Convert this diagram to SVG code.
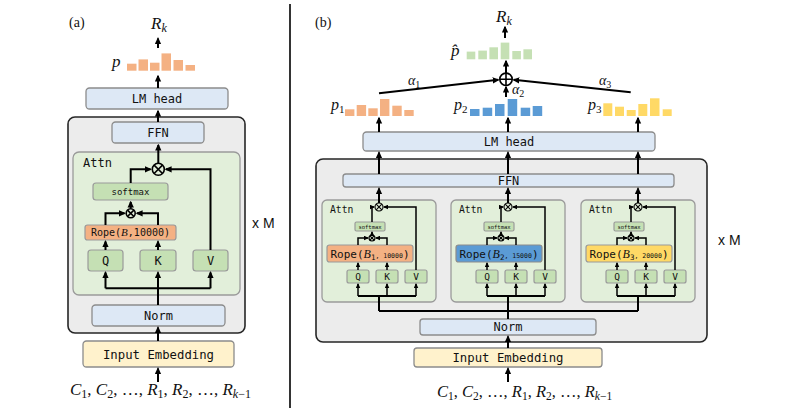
<svg xmlns="http://www.w3.org/2000/svg" width="797" height="412" viewBox="0 0 797 412">
<defs>
<style>
.mono{font-family:"DejaVu Sans Mono","Liberation Mono",monospace;fill:#111;text-anchor:middle}
.math{font-family:"Liberation Serif","DejaVu Serif",serif;font-style:italic;fill:#111}
.up{font-style:normal}
.lbl{font-family:"Liberation Serif","DejaVu Serif",serif;fill:#111;font-size:14px}
.sans{font-family:"Liberation Sans",Arial,sans-serif;fill:#111;font-size:14px}
.bb{fill:#dde8f5;stroke:#8c8c8c;stroke-width:1.3}
.outer{fill:#ececec;stroke:#262626;stroke-width:1.6}
.attn{fill:#e2efda;stroke:#9a9a9a;stroke-width:1.3}
.g{fill:#c5e0b4;stroke:#9a9a9a;stroke-width:1.2}
.emb{fill:#fff2cc;stroke:#8c8c8c;stroke-width:1.3}
.or{fill:#f4b183;stroke:#9a9a9a;stroke-width:1.2}
.bl{fill:#5b9bd5;stroke:#8c8c8c;stroke-width:1.2}
.ye{fill:#ffd966;stroke:#9a9a9a;stroke-width:1.2}
.c{fill:none;stroke:#000;stroke-width:2}
.cs{fill:none;stroke:#000;stroke-width:1.5}
.op{fill:none;stroke:#000;stroke-width:1.6}
.ops{fill:none;stroke:#000;stroke-width:1.1}
.bo{fill:#f4b183}.bbl{fill:#5b9bd5}.by{fill:#ffd966}.bg{fill:#c5e0b4}
</style>
<marker id="a" viewBox="0 0 10 10" refX="8" refY="5" markerWidth="7" markerHeight="7" markerUnits="userSpaceOnUse" orient="auto"><path d="M0,0.5 L10,5 L0,9.5 z" fill="#000"/></marker>
<marker id="s" viewBox="0 0 10 10" refX="8" refY="5" markerWidth="5" markerHeight="5" markerUnits="userSpaceOnUse" orient="auto"><path d="M0,0.5 L10,5 L0,9.5 z" fill="#000"/></marker>
</defs>
<rect width="797" height="412" fill="#fff"/>

<!-- divider -->
<line x1="290" y1="4" x2="290" y2="408" stroke="#000" stroke-width="1.6"/>

<!-- ========== Panel (a) ========== -->
<text class="lbl" x="69" y="27">(a)</text>
<g id="a-Rk"><text class="math" x="151" y="29" font-size="17">R<tspan font-size="12" dy="3">k</tspan></text></g>
<g id="a-p">
<text class="math" x="112" y="67" font-size="17">p</text>
<rect class="bo" x="127" y="63.7" width="9.5" height="7"/>
<rect class="bo" x="138.5" y="59.4" width="9.5" height="11.3"/>
<rect class="bo" x="150" y="62.7" width="9.5" height="8"/>
<rect class="bo" x="161.5" y="53.4" width="9.5" height="17.3"/>
<rect class="bo" x="173.5" y="60" width="9.5" height="10.7"/>
<rect class="bo" x="185.5" y="65" width="9.5" height="5.7"/>
</g>
<g id="a-lmhead"><rect class="bb" x="86" y="88" width="142" height="21" rx="3.5"/><text class="mono" x="157" y="103" font-size="12">LM head</text></g>
<g id="a-block"><rect class="outer" x="68" y="117" width="177" height="216" rx="7"/></g>
<g id="a-ffn"><rect class="bb" x="112" y="122" width="92" height="21" rx="3.5"/><text class="mono" x="158" y="137" font-size="12">FFN</text></g>
<g id="a-attn"><rect class="attn" x="73" y="152" width="167" height="143" rx="6"/><text class="mono" x="83" y="167" font-size="12" style="text-anchor:start">Attn</text></g>
<g id="a-mul1"><circle class="op" cx="158.3" cy="169.3" r="6"/><path class="op" d="M154.1,165.1 L162.5,173.5 M162.5,165.1 L154.1,173.5"/></g>
<g id="a-softmax"><rect class="g" x="93" y="183" width="75" height="17" rx="3"/><text class="mono" x="130.5" y="195" font-size="9">softmax</text></g>
<g id="a-mul2"><circle class="op" cx="130.7" cy="213.3" r="4.5"/><path class="op" d="M127.5,210.1 L133.9,216.5 M133.9,210.1 L127.5,216.5"/></g>
<g id="a-rope"><rect class="or" x="85" y="225" width="91" height="15" rx="2.5"/><text class="mono" x="130.5" y="236" font-size="10">Rope(<tspan class="math" font-size="11">B</tspan>,10000)</text></g>
<g id="a-q"><rect class="g" x="88" y="250" width="35" height="21" rx="3"/><text class="mono" x="105.5" y="264.5" font-size="12">Q</text></g>
<g id="a-k"><rect class="g" x="140" y="250" width="36" height="21" rx="3"/><text class="mono" x="158" y="264.5" font-size="12">K</text></g>
<g id="a-v"><rect class="g" x="193" y="250" width="35" height="21" rx="3"/><text class="mono" x="210.5" y="264.5" font-size="12">V</text></g>
<g id="a-norm"><rect class="bb" x="92" y="305" width="133" height="21" rx="3.5"/><text class="mono" x="158.5" y="320" font-size="12">Norm</text></g>
<g id="a-emb"><rect class="emb" x="83" y="341" width="151" height="26" rx="3.5"/><text class="mono" x="158.5" y="358.5" font-size="12.3">Input Embedding</text></g>
<g id="a-xm"><text class="sans" x="252" y="228">x M</text></g>
<g id="a-input"><text class="math" x="70" y="395" font-size="17">C<tspan class="up" font-size="12" dy="3">1</tspan><tspan class="up" dy="-3">, </tspan>C<tspan class="up" font-size="12" dy="3">2</tspan><tspan class="up" dy="-3">, …,  </tspan>R<tspan class="up" font-size="12" dy="3">1</tspan><tspan class="up" dy="-3">, </tspan>R<tspan class="up" font-size="12" dy="3">2</tspan><tspan class="up" dy="-3">, …, </tspan>R<tspan font-size="12" dy="3">k</tspan><tspan class="up" font-size="12">−1</tspan></text></g>

<!-- ========== Panel (b) ========== -->
<text class="lbl" x="315" y="27">(b)</text>
<g id="b-Rk"><text class="math" x="496" y="22" font-size="17">R<tspan font-size="12" dy="3">k</tspan></text></g>
<g id="b-phat">
<text class="math" x="451" y="56" font-size="17">p̂</text>
<rect class="bg" x="466.7" y="51.6" width="8.6" height="7.7"/>
<rect class="bg" x="478.3" y="50.6" width="8.6" height="8.7"/>
<rect class="bg" x="489.4" y="47.3" width="8.6" height="12"/>
<rect class="bg" x="500.7" y="42.6" width="8.6" height="16.7"/>
<rect class="bg" x="512.3" y="51" width="8.6" height="8.3"/>
<rect class="bg" x="523.4" y="49.3" width="8.6" height="10"/>
</g>
<g id="b-sum"><circle class="op" cx="506" cy="79.3" r="6.2"/><path class="op" d="M499.8,79.3 H512.2 M506,73.1 V85.5"/></g>
<g id="b-alpha">
<text class="math" x="408" y="85" font-size="14">α<tspan class="up" font-size="10" dy="2.5">1</tspan></text>
<text class="math" x="512" y="94" font-size="14">α<tspan class="up" font-size="10" dy="2.5">2</tspan></text>
<text class="math" x="599" y="85" font-size="14">α<tspan class="up" font-size="10" dy="2.5">3</tspan></text>
</g>
<g id="b-p1">
<text class="math" x="331" y="110" font-size="16">p<tspan class="up" font-size="11" dy="2.5">1</tspan></text>
<rect class="bo" x="345" y="109.3" width="9.4" height="6.7"/>
<rect class="bo" x="356.7" y="105" width="9.4" height="11"/>
<rect class="bo" x="368.3" y="108.3" width="9.4" height="7.7"/>
<rect class="bo" x="380" y="99" width="9.4" height="17"/>
<rect class="bo" x="392.3" y="105.7" width="9.4" height="10.3"/>
<rect class="bo" x="404.3" y="110" width="9.4" height="6"/>
</g>
<g id="b-p2">
<text class="math" x="454" y="110" font-size="16">p<tspan class="up" font-size="11" dy="2.5">2</tspan></text>
<rect class="bbl" x="470" y="109" width="9.5" height="7"/>
<rect class="bbl" x="482.7" y="107.7" width="9.5" height="8.3"/>
<rect class="bbl" x="495" y="104" width="9.5" height="12"/>
<rect class="bbl" x="507.7" y="99" width="9.5" height="17"/>
<rect class="bbl" x="520.7" y="107.7" width="9.5" height="8.3"/>
<rect class="bbl" x="532.7" y="106" width="9.5" height="10"/>
</g>
<g id="b-p3">
<text class="math" x="588" y="110" font-size="16">p<tspan class="up" font-size="11" dy="2.5">3</tspan></text>
<rect class="by" x="603.3" y="103.3" width="9" height="12.7"/>
<rect class="by" x="615" y="106.7" width="9" height="9.3"/>
<rect class="by" x="626.7" y="110" width="9" height="6"/>
<rect class="by" x="638.3" y="104" width="9" height="12"/>
<rect class="by" x="650" y="98.3" width="9.5" height="17.7"/>
<rect class="by" x="662.7" y="109.3" width="9" height="6.7"/>
</g>
<g id="b-lmhead"><rect class="bb" x="363" y="132" width="292" height="19" rx="3.5"/><text class="mono" x="509" y="146" font-size="12">LM head</text></g>
<g id="b-block"><rect class="outer" x="316" y="159" width="391" height="183" rx="7"/></g>
<g id="b-ffn"><rect class="bb" x="343" y="174" width="331" height="13" rx="3"/><text class="mono" x="508.5" y="184.7" font-size="12">FFN</text></g>

<!-- attention block 1 (cx=379) -->
<g id="b-attn1">
<rect class="attn" x="322" y="200" width="114" height="102" rx="5"/>
<text class="mono" x="330" y="213" font-size="9.7" style="text-anchor:start">Attn</text>
<circle class="ops" cx="379" cy="207" r="4"/><path class="ops" d="M376.2,204.2 L381.8,209.8 M381.8,204.2 L376.2,209.8"/>
<rect class="g" x="355" y="222" width="30" height="9" rx="1.5"/><text class="mono" x="370" y="228.6" font-size="5.5">softmax</text>
<circle class="ops" cx="372" cy="238" r="3"/><path class="ops" d="M369.9,235.9 L374.1,240.1 M374.1,235.9 L369.9,240.1"/>
<rect class="or" x="327" y="245" width="86" height="17" rx="2.5"/><text class="mono" x="370" y="257.5" font-size="11">Rope(<tspan class="math" font-size="12">B</tspan><tspan font-size="7.5" dy="2">1</tspan><tspan font-size="6.5" dy="-2">, 10000</tspan>)</text>
<rect class="g" x="347" y="270" width="22" height="13" rx="2"/><text class="mono" x="358" y="280.3" font-size="9.5">Q</text>
<rect class="g" x="376" y="270" width="22" height="13" rx="2"/><text class="mono" x="387" y="280.3" font-size="9.5">K</text>
<rect class="g" x="405" y="270" width="22" height="13" rx="2"/><text class="mono" x="416" y="280.3" font-size="9.5">V</text>
</g>
<!-- attention block 2 (cx=508) -->
<g id="b-attn2">
<rect class="attn" x="451" y="200" width="114" height="102" rx="5"/>
<text class="mono" x="459" y="213" font-size="9.7" style="text-anchor:start">Attn</text>
<circle class="ops" cx="508" cy="207" r="4"/><path class="ops" d="M505.2,204.2 L510.8,209.8 M510.8,204.2 L505.2,209.8"/>
<rect class="g" x="484" y="222" width="30" height="9" rx="1.5"/><text class="mono" x="499" y="228.6" font-size="5.5">softmax</text>
<circle class="ops" cx="501" cy="238" r="3"/><path class="ops" d="M498.9,235.9 L503.1,240.1 M503.1,235.9 L498.9,240.1"/>
<rect class="bl" x="456" y="245" width="86" height="17" rx="2.5"/><text class="mono" x="499" y="257.5" font-size="11">Rope(<tspan class="math" font-size="12">B</tspan><tspan font-size="7.5" dy="2">2</tspan><tspan font-size="6.5" dy="-2">, 15000</tspan>)</text>
<rect class="g" x="476" y="270" width="22" height="13" rx="2"/><text class="mono" x="487" y="280.3" font-size="9.5">Q</text>
<rect class="g" x="505" y="270" width="22" height="13" rx="2"/><text class="mono" x="516" y="280.3" font-size="9.5">K</text>
<rect class="g" x="534" y="270" width="22" height="13" rx="2"/><text class="mono" x="545" y="280.3" font-size="9.5">V</text>
</g>
<!-- attention block 3 (cx=638) -->
<g id="b-attn3">
<rect class="attn" x="581" y="200" width="114" height="102" rx="5"/>
<text class="mono" x="589" y="213" font-size="9.7" style="text-anchor:start">Attn</text>
<circle class="ops" cx="638" cy="207" r="4"/><path class="ops" d="M635.2,204.2 L640.8,209.8 M640.8,204.2 L635.2,209.8"/>
<rect class="g" x="614" y="222" width="30" height="9" rx="1.5"/><text class="mono" x="629" y="228.6" font-size="5.5">softmax</text>
<circle class="ops" cx="631" cy="238" r="3"/><path class="ops" d="M628.9,235.9 L633.1,240.1 M633.1,235.9 L628.9,240.1"/>
<rect class="ye" x="586" y="245" width="86" height="17" rx="2.5"/><text class="mono" x="629" y="257.5" font-size="11">Rope(<tspan class="math" font-size="12">B</tspan><tspan font-size="7.5" dy="2">3</tspan><tspan font-size="6.5" dy="-2">, 20000</tspan>)</text>
<rect class="g" x="606" y="270" width="22" height="13" rx="2"/><text class="mono" x="617" y="280.3" font-size="9.5">Q</text>
<rect class="g" x="635" y="270" width="22" height="13" rx="2"/><text class="mono" x="646" y="280.3" font-size="9.5">K</text>
<rect class="g" x="664" y="270" width="22" height="13" rx="2"/><text class="mono" x="675" y="280.3" font-size="9.5">V</text>
</g>
<g id="b-norm"><rect class="bb" x="420" y="319" width="176" height="16" rx="3"/><text class="mono" x="508" y="331.3" font-size="12">Norm</text></g>
<g id="b-emb"><rect class="emb" x="414" y="348" width="188" height="19" rx="3"/><text class="mono" x="508" y="361.7" font-size="12.3">Input Embedding</text></g>
<g id="b-xm"><text class="sans" x="718" y="245">x M</text></g>
<g id="b-input"><text class="math" x="437" y="397" font-size="16.5">C<tspan class="up" font-size="11.5" dy="3">1</tspan><tspan class="up" dy="-3">, </tspan>C<tspan class="up" font-size="11.5" dy="3">2</tspan><tspan class="up" dy="-3">, …, </tspan>R<tspan class="up" font-size="11.5" dy="3">1</tspan><tspan class="up" dy="-3">, </tspan>R<tspan class="up" font-size="11.5" dy="3">2</tspan><tspan class="up" dy="-3">, …, </tspan>R<tspan font-size="11.5" dy="3">k</tspan><tspan class="up" font-size="11.5">−1</tspan></text></g>

<!-- ========== Connectors ========== -->
<g id="connectors">
<!-- panel a -->
<path class="c" marker-end="url(#a)" d="M158,48 V38.5"/>
<path class="c" marker-end="url(#a)" d="M158,88 V76"/>
<path class="c" marker-end="url(#a)" d="M158,122 V111"/>
<path class="c" marker-end="url(#a)" d="M158.3,163 V145"/>
<path class="c" marker-end="url(#a)" d="M130.7,183 V169.3 H150.5"/>
<path class="c" marker-end="url(#a)" d="M210.5,250 V169.3 H166"/>
<path class="c" marker-end="url(#a)" d="M130.7,208.5 V202"/>
<path class="c" marker-end="url(#a)" d="M105.5,225 V213.3 H124.5"/>
<path class="c" marker-end="url(#a)" d="M158,225 V213.3 H137"/>
<path class="c" marker-end="url(#a)" d="M105.5,250 V241.5"/>
<path class="c" marker-end="url(#a)" d="M158,250 V241.5"/>
<path class="c" d="M105.5,288.3 H210.5"/>
<path class="c" marker-end="url(#a)" d="M158,305 V272.5"/>
<path class="c" marker-end="url(#a)" d="M105.5,288.3 V272.5"/>
<path class="c" marker-end="url(#a)" d="M210.5,288.3 V272.5"/>
<path class="c" marker-end="url(#a)" d="M158,341 V327.5"/>
<path class="c" marker-end="url(#a)" d="M158,382 V368.5"/>
<!-- panel b top -->
<path class="c" marker-end="url(#a)" d="M505,38 V27"/>
<path class="c" marker-end="url(#a)" d="M506,73 V61"/>
<path class="c" marker-end="url(#a)" d="M379,93.3 L498.3,79.8"/>
<path class="c" marker-end="url(#a)" d="M630.7,92.3 L513.7,79.8"/>
<path class="c" marker-end="url(#a)" d="M506,97 V87"/>
<path class="c" marker-end="url(#a)" d="M379,132 V118"/>
<path class="c" marker-end="url(#a)" d="M508,132 V118"/>
<path class="c" marker-end="url(#a)" d="M638,132 V118"/>
<path class="c" marker-end="url(#a)" d="M379,174 V152.5"/>
<path class="c" marker-end="url(#a)" d="M508,174 V152.5"/>
<path class="c" marker-end="url(#a)" d="M638,174 V152.5"/>
<!-- block 1 -->
<path class="c" marker-end="url(#a)" d="M379,203 V188.5"/>
<path class="cs" marker-end="url(#s)" d="M372,222 V207 H374"/>
<path class="cs" marker-end="url(#s)" d="M416,270 V207 H384"/>
<path class="cs" marker-end="url(#s)" d="M372,235 V232"/>
<path class="cs" marker-end="url(#s)" d="M358,245 V238 H368"/>
<path class="cs" marker-end="url(#s)" d="M387,245 V238 H376"/>
<path class="cs" marker-end="url(#s)" d="M358,270 V263"/>
<path class="cs" marker-end="url(#s)" d="M387,270 V263"/>
<path class="c" d="M358,296 H416 M379,296 V311"/>
<path class="cs" marker-end="url(#s)" d="M358,296 V284"/>
<path class="cs" marker-end="url(#s)" d="M387,296 V284"/>
<path class="cs" marker-end="url(#s)" d="M416,296 V284"/>
<!-- block 2 -->
<path class="c" marker-end="url(#a)" d="M508,203 V188.5"/>
<path class="cs" marker-end="url(#s)" d="M501,222 V207 H503"/>
<path class="cs" marker-end="url(#s)" d="M545,270 V207 H513"/>
<path class="cs" marker-end="url(#s)" d="M501,235 V232"/>
<path class="cs" marker-end="url(#s)" d="M487,245 V238 H497"/>
<path class="cs" marker-end="url(#s)" d="M516,245 V238 H505"/>
<path class="cs" marker-end="url(#s)" d="M487,270 V263"/>
<path class="cs" marker-end="url(#s)" d="M516,270 V263"/>
<path class="c" d="M487,296 H545 M508,296 V311"/>
<path class="cs" marker-end="url(#s)" d="M487,296 V284"/>
<path class="cs" marker-end="url(#s)" d="M516,296 V284"/>
<path class="cs" marker-end="url(#s)" d="M545,296 V284"/>
<!-- block 3 -->
<path class="c" marker-end="url(#a)" d="M638,203 V188.5"/>
<path class="cs" marker-end="url(#s)" d="M631,222 V207 H633"/>
<path class="cs" marker-end="url(#s)" d="M675,270 V207 H643"/>
<path class="cs" marker-end="url(#s)" d="M631,235 V232"/>
<path class="cs" marker-end="url(#s)" d="M617,245 V238 H627"/>
<path class="cs" marker-end="url(#s)" d="M646,245 V238 H635"/>
<path class="cs" marker-end="url(#s)" d="M617,270 V263"/>
<path class="cs" marker-end="url(#s)" d="M646,270 V263"/>
<path class="c" d="M617,296 H675 M638,296 V311"/>
<path class="cs" marker-end="url(#s)" d="M617,296 V284"/>
<path class="cs" marker-end="url(#s)" d="M646,296 V284"/>
<path class="cs" marker-end="url(#s)" d="M675,296 V284"/>
<!-- bus -->
<path class="c" d="M379,311 H638 M508,319 V311"/>
<path class="c" marker-end="url(#a)" d="M508,348 V336.5"/>
<path class="c" marker-end="url(#a)" d="M508,382 V368.5"/>
</g>
</svg>
